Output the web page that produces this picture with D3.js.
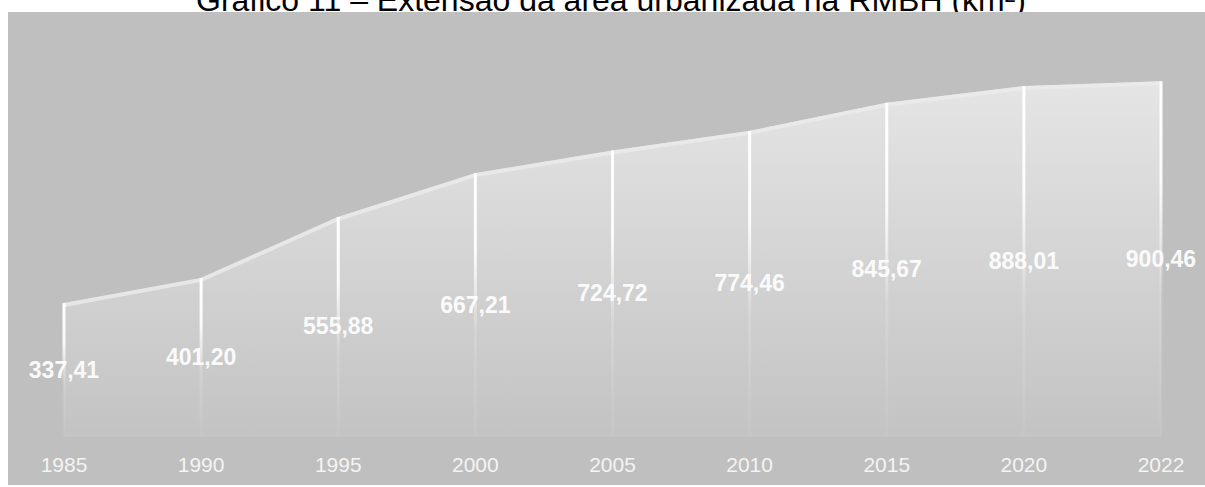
<!DOCTYPE html>
<html>
<head>
<meta charset="utf-8">
<script src="https://cdn.jsdelivr.net/npm/d3@7"></script>
<style>
  body { margin: 0; background: #fff; }
  text { font-family: Arial, 'Liberation Sans', sans-serif; }
</style>
</head>
<body>
<div id="chart"></div>
<script>
// Urbanized area of RMBH (km²)
const years = ['1985', '1990', '1995', '2000', '2005', '2010', '2015', '2020', '2022']
const areaKm2 = [337.41, 401.20, 555.88, 667.21, 724.72, 774.46, 845.67, 888.01, 900.46]
const yDomain = [0, 1000]

const width = 1205
const height = 487

const data = years.map((y, i) => ({ year: y, value: areaKm2[i] }))
const fmt = v => d3.format('.2f')(v).replace('.', ',')

const svg = d3.select('#chart')
  .append('svg')
  .attr('width', width)
  .attr('height', height)

const defs = svg.append('defs')

// Title (top is clipped in the original, kept that way)
svg.append('text')
  .text('Gráfico 11 – Extensão da área urbanizada na RMBH (km²)')
  .attr('x', 611)
  .attr('y', 11)
  .attr('text-anchor', 'middle')
  .style('font-size', '32px')
  .style('fill', '#000')

// Gray panel
svg.append('rect')
  .attr('x', 8)
  .attr('y', 12)
  .attr('width', width - 8)
  .attr('height', 473)
  .attr('fill', '#bfbfbf')

// Scales
const x = d3.scalePoint()
  .domain(years)
  .range([64, 1161])

const y = d3.scaleLinear()
  .domain(yDomain)
  .range([436, 42])

// Area gradient
const areaGrad = defs.append('linearGradient')
  .attr('id', 'areaGrad')
  .attr('gradientUnits', 'userSpaceOnUse')
  .attr('x1', 0).attr('x2', 0)
  .attr('y1', y(d3.max(areaKm2))).attr('y2', y(0))
areaGrad.append('stop').attr('offset', 0).attr('stop-color', '#e5e5e5')
areaGrad.append('stop').attr('offset', 1).attr('stop-color', '#c3c3c3')

const area = d3.area()
  .x(d => x(d.year))
  .y0(y(0))
  .y1(d => y(d.value))

svg.append('path')
  .datum(data)
  .attr('d', area)
  .attr('fill', 'url(#areaGrad)')

// lighter band along the top edge
svg.append('path')
  .datum(data)
  .attr('d', d3.line().x(d => x(d.year)).y(d => y(d.value) + 2))
  .attr('fill', 'none')
  .attr('stroke', '#ebebeb')
  .attr('stroke-width', 4)
  .attr('stroke-opacity', 0.8)

// baseline
svg.append('line')
  .attr('x1', x(years[0])).attr('x2', x(years[years.length - 1]))
  .attr('y1', y(0)).attr('y2', y(0))
  .attr('stroke', '#c6cacf')
  .attr('stroke-width', 1)

// Drop lines (fading white)
const dropGrad = defs.append('linearGradient')
  .attr('id', 'dropGrad')
  .attr('x1', 0).attr('x2', 0)
  .attr('y1', 0).attr('y2', 1)
dropGrad.append('stop').attr('offset', 0).attr('stop-color', '#fff').attr('stop-opacity', 1)
dropGrad.append('stop').attr('offset', 0.3).attr('stop-color', '#fff').attr('stop-opacity', 0.9)
dropGrad.append('stop').attr('offset', 0.6).attr('stop-color', '#fff').attr('stop-opacity', 0.15)
dropGrad.append('stop').attr('offset', 1).attr('stop-color', '#fff').attr('stop-opacity', 0.04)

svg.append('g').selectAll('rect')
  .data(data)
  .enter().append('rect')
  .attr('x', d => x(d.year) - 1.5)
  .attr('y', d => y(d.value))
  .attr('width', 3)
  .attr('height', d => y(0) - y(d.value))
  .attr('fill', 'url(#dropGrad)')

// Value labels
svg.append('g').selectAll('text')
  .data(data)
  .enter().append('text')
  .text(d => fmt(d.value))
  .attr('x', d => x(d.year))
  .attr('y', d => y(d.value / 2))
  .attr('text-anchor', 'middle')
  .attr('dominant-baseline', 'central')
  .style('font-size', '23px')
  .style('font-weight', 'bold')
  .style('fill', '#fff')
  .style('fill-opacity', 0.92)

// Category axis labels
svg.append('g').selectAll('text')
  .data(years)
  .enter().append('text')
  .text(d => d)
  .attr('x', d => x(d))
  .attr('y', 464)
  .attr('text-anchor', 'middle')
  .attr('dominant-baseline', 'central')
  .style('font-size', '21px')
  .style('fill', '#f4f4f4')
</script>
</body>
</html>
